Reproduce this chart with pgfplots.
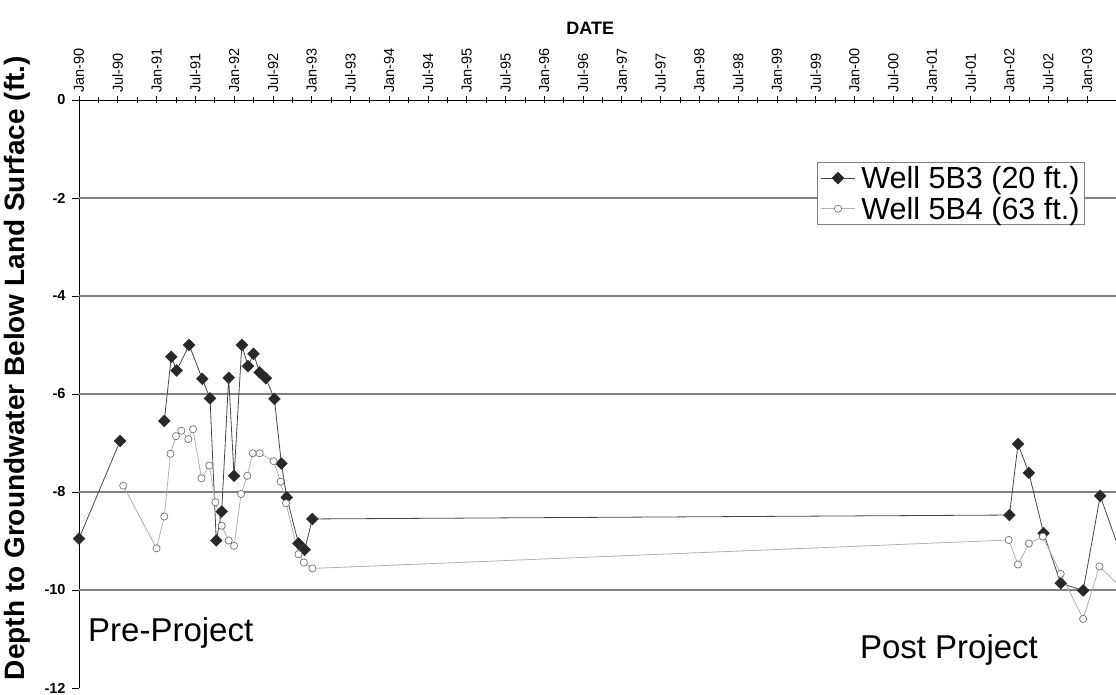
\documentclass[border=0pt]{standalone}
\usepackage{pgfplots}
\pgfplotsset{compat=1.18}
\usepackage{pgfplotstable}
\usepackage{fontspec}
\setmainfont{Liberation Sans}
\definecolor{gridgray}{RGB}{128,128,128}
\definecolor{darkline}{RGB}{70,70,70}
\definecolor{darkmark}{RGB}{40,40,40}
\definecolor{lightline}{RGB}{175,175,175}
\definecolor{circedge}{RGB}{115,115,115}

% x = years since 1 Jan 1990; nan = no reading (gap in the line)
\pgfplotstableread{
x y
0.00 -8.95
0.53 -6.96
0.80 nan
1.10 -6.55
1.19 -5.24
1.26 -5.52
1.42 -5.00
1.59 -5.69
1.69 -6.09
1.77 -8.99
1.84 -8.40
1.93 -5.67
2.00 -7.67
2.10 -5.00
2.18 -5.43
2.25 -5.18
2.33 -5.56
2.41 -5.68
2.52 -6.10
2.61 -7.42
2.68 -8.11
2.83 -9.05
2.91 -9.18
3.01 -8.55
12.00 -8.47
12.11 -7.02
12.25 -7.61
12.44 -8.84
12.66 -9.86
12.95 -10.01
13.17 -8.08
13.50 -9.55
}\wellA

\pgfplotstableread{
x y
0.57 -7.87
1.00 -9.15
1.10 -8.50
1.18 -7.22
1.25 -6.86
1.32 -6.75
1.41 -6.92
1.47 -6.72
1.58 -7.72
1.68 -7.46
1.76 -8.21
1.84 -8.69
1.93 -8.99
2.00 -9.10
2.09 -8.04
2.17 -7.67
2.24 -7.21
2.33 -7.21
2.51 -7.37
2.60 -7.79
2.67 -8.23
2.83 -9.27
2.90 -9.44
3.01 -9.56
11.99 -8.98
12.11 -9.48
12.25 -9.05
12.43 -8.91
12.66 -9.67
12.95 -10.59
13.16 -9.52
13.50 -10.04
}\wellB

\begin{document}
\begin{tikzpicture}
\begin{axis}[
  at={(0pt,0pt)}, anchor=north west,
  x=77.54pt, y=49pt,
  xmin=0, xmax=13.374, ymin=-12, ymax=0,
  clip=false,
  unbounded coords=jump,
  axis x line*=top, axis y line*=left,
  axis line style={black, line width=0.8pt},
  xtick={0,0.5,...,13},
  xticklabels={Jan-90,Jul-90,Jan-91,Jul-91,Jan-92,Jul-92,Jan-93,Jul-93,Jan-94,Jul-94,Jan-95,Jul-95,Jan-96,Jul-96,Jan-97,Jul-97,Jan-98,Jul-98,Jan-99,Jul-99,Jan-00,Jul-00,Jan-01,Jul-01,Jan-02,Jul-02,Jan-03},
  minor x tick num=1,
  xtick pos=right, xticklabel pos=right,
  xticklabel style={rotate=90, anchor=west, font=\fontsize{14.5}{16}\selectfont},
  ytick={-12,-10,-8,-6,-4,-2,0},
  yticklabels={-12,-10,-8,-6,-4,-2,0},
  ytick pos=left,
  yticklabel style={font=\bfseries\fontsize{14.5}{16}\selectfont, xshift=-3pt},
  x tick style={black, line width=0.7pt},
  y tick style={black, line width=0.7pt},
  xtick align=center, ytick align=outside,
  major tick length=7pt, minor tick length=6pt,
  extra y ticks={-10,-8,-6,-4,-2},
  extra y tick labels={},
  extra y tick style={grid=major, major tick length=0pt},
  major grid style={gridgray, line width=1.3pt},
  xlabel={DATE},
  xlabel style={font=\bfseries\fontsize{18}{20}\selectfont, at={(ticklabel cs:0.493)}, yshift=7pt},
  ylabel={Depth to Groundwater Below Land Surface (ft.)},
  ylabel style={font=\bfseries\fontsize{28}{30}\selectfont, at={(ticklabel cs:0.544)}},
  legend style={at={(0.970,0.8946)}, anchor=north east, draw=gray, line width=0.8pt, fill=white,
    font=\fontsize{30.5}{33}\selectfont, inner xsep=3pt, inner ysep=2pt, row sep=3pt},
  legend cell align=left,
  legend image code/.code={\draw[mark repeat=2,mark phase=2,#1] plot coordinates {(0pt,0pt) (17pt,0pt) (34pt,0pt)}; \path (38pt,0pt);},
]
\addplot[color=darkline, line width=0.8pt, mark=square*, mark size=4.2pt,
  mark options={rotate=45, fill=darkmark, draw=darkmark, line width=0.4pt}] table[x=x,y=y] {\wellA};
\addlegendentry{Well 5B3 (20 ft.)}
\addplot[color=lightline, line width=0.8pt, mark=*, mark size=3.6pt,
  mark options={fill=white, draw=circedge, line width=0.7pt}] table[x=x,y=y] {\wellB};
\addlegendentry{Well 5B4 (63 ft.)}
\node[anchor=west, inner sep=0pt, font=\fontsize{33}{36}\selectfont] at (axis cs:0.116,-10.88) {Pre-Project};
\node[anchor=west, inner sep=0pt, font=\fontsize{33}{36}\selectfont] at (axis cs:10.07,-11.22) {Post Project};
\end{axis}
\pgfresetboundingbox
\path (-79pt,100pt) rectangle (1037pt,-595pt);
\end{tikzpicture}
\end{document}
